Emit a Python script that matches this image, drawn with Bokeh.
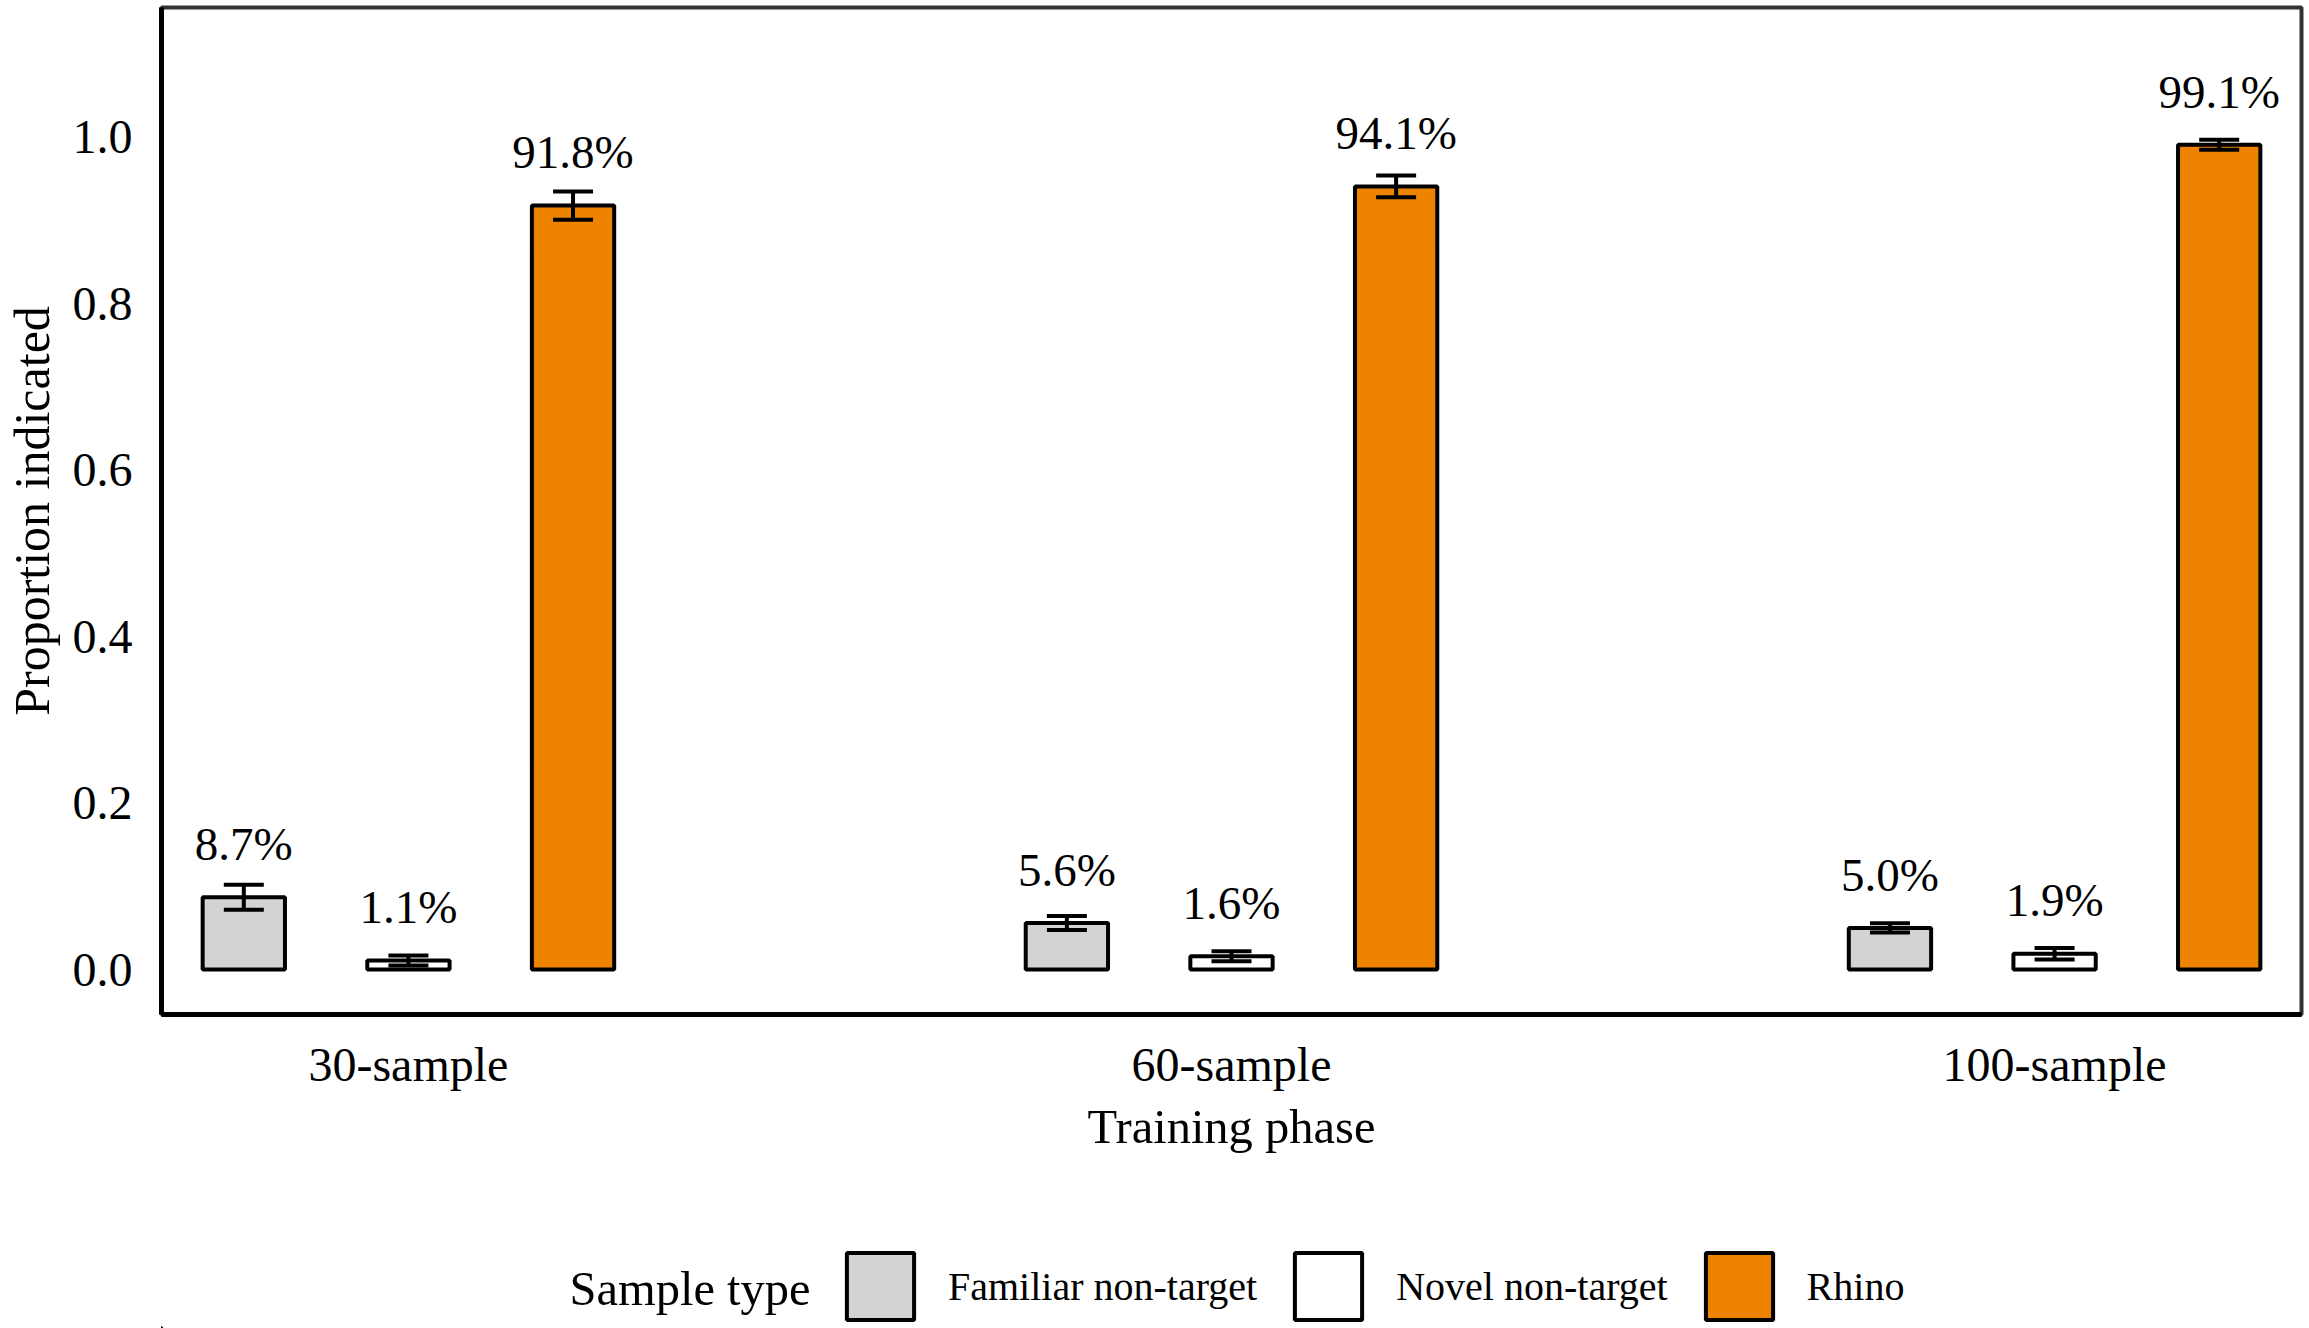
from bokeh.plotting import figure
from bokeh.models import (Range1d, FixedTicker, Legend, LegendItem, Whisker, TeeHead,
                          ColumnDataSource, PrintfTickFormatter, Label)
from bokeh.layouts import column
from bokeh.transform import dodge
from bokeh.core.properties import value
from bokeh.embed import file_html
from bokeh.resources import INLINE

# ---------------- data ----------------
phases = ["30-sample", "60-sample", "100-sample"]
sample_types = ["Familiar non-target", "Novel non-target", "Rhino"]
familiar = [0.087, 0.056, 0.050]
familiar_se = [0.015, 0.0085, 0.0056]
novel = [0.011, 0.016, 0.019]
novel_se = [0.006, 0.006, 0.007]
rhino = [0.918, 0.941, 0.991]
rhino_se = [0.017, 0.013, 0.006]
y_ticks = [0.0, 0.2, 0.4, 0.6, 0.8, 1.0]
legend_title = "Sample type"

# ---------------- style ----------------
FONT = "Liberation Serif"
colors = ["#D3D3D3", "#FFFFFF", "#EE8300"]
offsets = [-0.2, 0.0, 0.2]
LABEL_GAP = 0.064
W = 2306
H_MAIN = 1184
H_LEG = 1328 - H_MAIN
FRAME_L, FRAME_R = 161, W - 5
LEG_X0 = 5000  # legend strip's ranges are shifted so the key-only bars lie far out of view
LEG_Y0 = 50

xg = list(range(1, len(phases) + 1))

p = figure(width=W, height=H_MAIN,
           x_range=Range1d(0.7, 3.3), y_range=Range1d(-0.054, 1.156),
           output_backend="svg", toolbar_location=None,
           min_border_left=FRAME_L, min_border_right=W - FRAME_R, min_border_top=7,
           min_border_bottom=170)

# legend strip: its frame is aligned with the main frame by the column layout,
# its ranges are in (shifted) page pixels
lg = figure(width=W, height=H_LEG, x_range=Range1d(LEG_X0 + FRAME_L, LEG_X0 + FRAME_R),
            y_range=Range1d(LEG_Y0, LEG_Y0 + H_LEG),
            output_backend="svg", toolbar_location=None,
            x_axis_location=None, y_axis_location=None, min_border=0)

key_renderers = []
for name, vals, ses, col, off in zip(sample_types, [familiar, novel, rhino],
                                     [familiar_se, novel_se, rhino_se], colors, offsets):
    src = ColumnDataSource(dict(
        x=xg, top=vals,
        upper=[v + s for v, s in zip(vals, ses)],
        lower=[v - s for v, s in zip(vals, ses)],
        label_y=[v + LABEL_GAP for v in vals],
        label=[f"{v * 100:.1f}%" for v in vals],
    ))
    p.vbar(x=dodge("x", off), top="top", bottom=0, width=0.1, source=src,
           fill_color=col, line_color="black", line_width=4)
    w = Whisker(base=dodge("x", off), upper="upper", lower="lower", source=src,
                dimension="height", line_color="black", line_width=4, level="annotation",
                upper_head=TeeHead(size=40, line_width=4, line_color="black"),
                lower_head=TeeHead(size=40, line_width=4, line_color="black"))
    p.add_layout(w)
    p.text(x=dodge("x", off), y="label_y", text="label", source=src,
           text_font=value(FONT), text_font_size="47px", text_align="center",
           text_baseline="alphabetic", text_color="black")
    # same series in the legend strip (far outside its visible range) -> legend key only
    key_renderers.append(lg.vbar(x=dodge("x", off), top="top", bottom=0, width=0.1, source=src,
                                 fill_color=col, line_color="black", line_width=4))

# axes
p.xaxis.ticker = FixedTicker(ticks=xg)
p.xaxis.major_label_overrides = {x: lab for x, lab in zip(xg, phases)}
p.yaxis.ticker = FixedTicker(ticks=y_ticks)
p.yaxis.formatter = PrintfTickFormatter(format="%.1f")
p.xaxis.axis_label = "Training phase"
p.yaxis.axis_label = "Proportion indicated"

for ax in (p.xaxis[0], p.yaxis[0]):
    ax.major_tick_out = 0
    ax.major_tick_in = 0
    ax.minor_tick_out = 0
    ax.minor_tick_in = 0
    ax.axis_line_width = 5
    ax.axis_line_color = "black"
    ax.major_label_text_font = FONT
    ax.major_label_text_font_size = "48px"
    ax.major_label_text_color = "black"
    ax.axis_label_text_font = FONT
    ax.axis_label_text_font_style = "normal"
    ax.axis_label_text_color = "black"

p.xaxis.major_label_standoff = 23
p.xaxis.axis_label_standoff = 6
p.xaxis.axis_label_text_font_size = "48.5px"
p.yaxis.major_label_standoff = 29
p.yaxis.axis_label_standoff = 10
p.yaxis.axis_label_text_font_size = "50px"

p.xgrid.visible = False
p.ygrid.visible = False
p.outline_line_color = "#333333"
p.outline_line_width = 4
p.background_fill_color = "white"
p.border_fill_color = "white"

lg.grid.visible = False
lg.outline_line_color = None
lg.border_fill_color = "white"
lg.background_fill_color = "white"

legend = Legend(items=[LegendItem(label=n, renderers=[r]) for n, r in zip(sample_types, key_renderers)],
                orientation="horizontal", location=(838 - FRAME_L, 0),
                glyph_width=84, glyph_height=84,
                label_standoff=26, spacing=29, padding=0, margin=0,
                label_text_font=FONT, label_text_font_size="40px", label_text_color="black",
                border_line_color=None, background_fill_alpha=0)
lg.add_layout(legend)

lg.add_layout(Label(x=LEG_X0 + 569, y=LEG_Y0 + 40, text=legend_title, text_font=FONT,
                    text_font_size="48.5px", text_baseline="middle", text_align="left",
                    text_color="black"))

layout = column(p, lg, spacing=0)
open("out.html", "w").write(file_html(layout, INLINE))
